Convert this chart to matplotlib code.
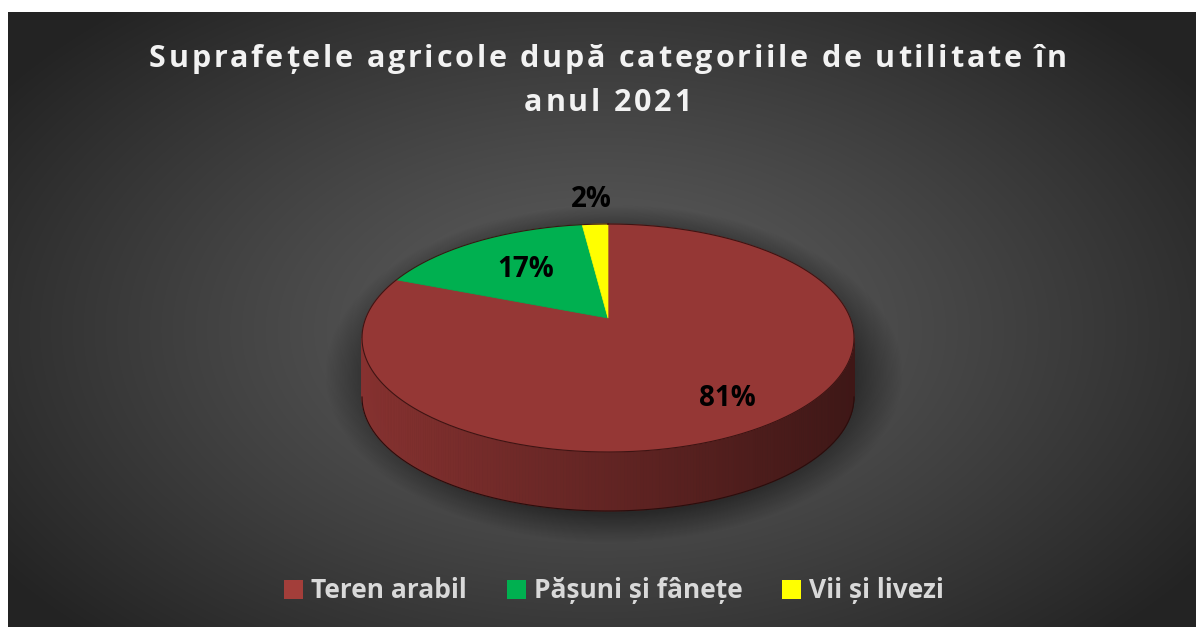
import numpy as np
import matplotlib.pyplot as plt
from matplotlib.patches import Polygon, Patch
from matplotlib.colors import to_rgb
from matplotlib.font_manager import FontProperties

categories = ['Teren arabil', 'Pășuni și fânețe', 'Vii și livezi']
shares = [81, 17, 2]
labels = ['81%', '17%', '2%']
colors = ['#953735', '#00b050', '#ffff00']
legend_colors = ['#a33e3a', '#00b050', '#ffff00']
title_lines = ['Suprafețele agricole după categoriile de utilitate în', 'anul 2021']

FONT = ['Open Sans', 'DejaVu Sans']
W, H = 1196, 627

fig = plt.figure(figsize=(W / 100, H / 100), dpi=100)
ax = fig.add_axes([0, 0, 1, 1])

# dark panel with a soft radial gradient
px0, py0 = 8, 12
yy, xx = np.mgrid[py0:H, px0:W] + 0.5
r = np.sqrt(((xx - 600) / 720) ** 2 + ((yy - 330) / 430) ** 2)
g = 0.37 - 0.23 * np.clip(r, 0, 1) ** 1.2
ax.imshow(np.dstack([g, g, g]), extent=(px0, W, H, py0), aspect='auto', zorder=0,
          interpolation='bilinear')

# pie geometry (pixel units); s tilts the centre upward like a perspective view
cx, cy = 608, 338
a, b = 246, 114
depth = 59
s = -0.175
q = np.sqrt(1 - s ** 2)


def project(theta, rad=1.0, dy=0.0):
    u = rad * np.sin(theta)
    v = -rad * np.cos(theta)
    den = 1 + s * v
    return np.column_stack([cx + a * u * q / den, cy + b * (v + s) / den + dy])


def screen_angle(phi):
    # angle on the pie of the rim point seen at ellipse parameter phi
    u2, v2 = np.sin(phi), -np.cos(phi)
    den = 1 - s * v2
    u, v = u2 * q / den, (v2 - s) / den
    return np.mod(np.arctan2(u, -v), 2 * np.pi)


def ellipse(phi, dy=0.0):
    return np.column_stack([cx + a * np.sin(phi), cy - b * np.cos(phi) + dy])


# soft shadow under the pie
sy, sx = np.mgrid[0:H, 0:W] + 0.5
d = np.sqrt(((sx - 614) / 258) ** 2 + ((sy - 374) / 151) ** 2)
alpha = 0.45 * np.clip((1.12 - d) / 0.2, 0, 1)
shadow = np.zeros((H, W, 4))
shadow[..., 3] = alpha
ax.imshow(shadow, extent=(0, W, H, 0), aspect='auto', zorder=1)

fractions = np.array(shares, dtype=float) / sum(shares)
bounds = np.concatenate([[0], np.cumsum(fractions)]) * 2 * np.pi

# side wall: front half of the rim, shaded darker toward the right
n = 240
ph = np.linspace(np.pi / 2, 3 * np.pi / 2, n + 1)
for p0, p1 in zip(ph[:-1], ph[1:]):
    mid = 0.5 * (p0 + p1)
    k = min(np.searchsorted(bounds, screen_angle(mid)) - 1, len(shares) - 1)
    base = np.array(to_rgb(colors[k]))
    pos = (np.sin(mid) + 1) / 2          # 0 = left edge, 1 = right edge
    shade = 0.9 - 0.48 * pos
    seg = np.linspace(p0, p1, 3)
    quad = np.vstack([ellipse(seg), ellipse(seg[::-1], depth)])
    ax.add_patch(Polygon(quad, closed=True, fc=base * shade, ec=base * shade,
                         lw=0.6, zorder=2))
bottom = ellipse(ph, depth)
ax.plot(bottom[:, 0], bottom[:, 1], color='#2a0d0c', lw=0.8, zorder=3)

# top face
centre = project(0.0, rad=0.0)[0]
for k in range(len(shares)):
    arc = np.linspace(bounds[k], bounds[k + 1], 200)
    pts = np.vstack([[centre], project(arc)])
    ax.add_patch(Polygon(pts, closed=True, fc=colors[k], ec=colors[k], lw=0.5, zorder=4))
outline = ellipse(np.linspace(0, 2 * np.pi, 400))
ax.plot(outline[:, 0], outline[:, 1], color='#3d1413', lw=0.8, zorder=5)

# data labels
label_radius = [0.78, 0.6, 1.32]
for k, lab in enumerate(labels):
    mid = 0.5 * (bounds[k] + bounds[k + 1])
    lx, ly = project(mid, rad=label_radius[k])[0]
    ax.text(lx, ly, lab, ha='center', va='center', fontsize=20, fontweight='bold',
            color='black', family=FONT, zorder=6)


# letter-spaced title
renderer = fig.canvas.get_renderer()


def spaced_text(xc, y, txt, spacing, size, **kw):
    prop = FontProperties(family=FONT, weight='bold', size=size)
    wdot = renderer.get_text_width_height_descent('.', prop, ismath=False)[0]
    pos = [renderer.get_text_width_height_descent(txt[:i] + '.', prop, ismath=False)[0] - wdot
           for i in range(len(txt) + 1)]
    total = pos[-1] + spacing * (len(txt) - 1)
    x = xc - total / 2
    for i, ch in enumerate(txt):
        if ch != ' ':
            ax.text(x + pos[i] + spacing * i, y, ch, ha='left', va='baseline',
                    fontproperties=prop, **kw)


spaced_text(608, 67, title_lines[0], 2.8, 22, color='#f2f2f2')
spaced_text(608, 111, title_lines[1], 2.8, 22, color='#f2f2f2')

handles = [Patch(fc=c, ec='none') for c in legend_colors]
leg = ax.legend(handles, categories, loc='center', bbox_to_anchor=(614 / W, 1 - 591 / H),
                ncol=3, frameon=False, handlelength=0.72, handleheight=0.72,
                handletextpad=0.3, columnspacing=1.5,
                prop={'family': FONT, 'weight': 'bold', 'size': 19})
for t in leg.get_texts():
    t.set_color('#d9d9d9')

ax.set_xlim(0, W)
ax.set_ylim(H, 0)
ax.axis('off')
fig.savefig('out.png', dpi=100, facecolor='white')
